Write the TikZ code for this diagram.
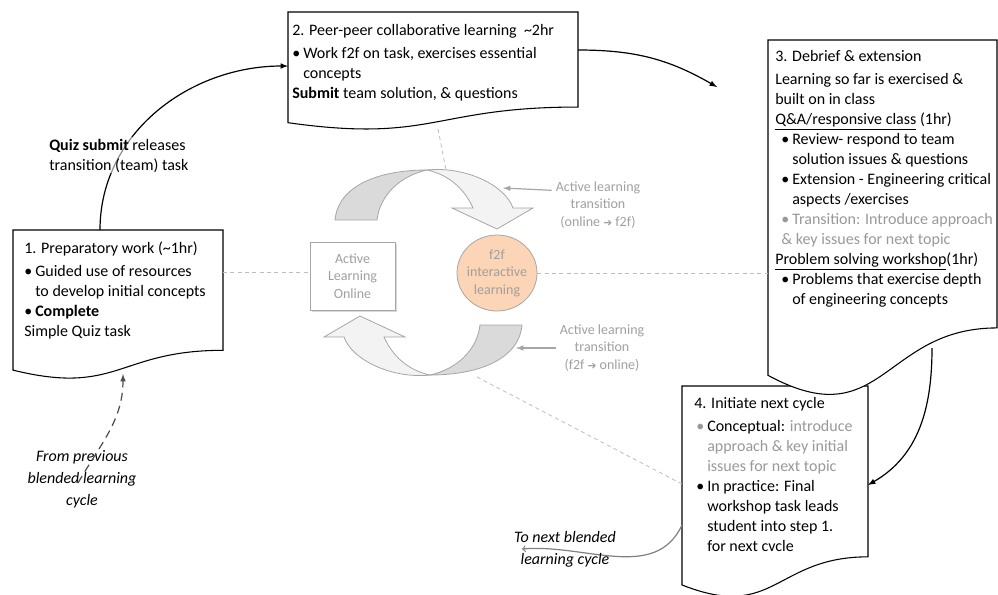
\documentclass[tikz,border=0pt]{standalone}
\usepackage{fontspec}
\setmainfont{Carlito}
\newfontfamily\symfont{DejaVu Sans}
\usetikzlibrary{shapes.geometric,calc,shadows}
\setlength{\parindent}{0pt}

\definecolor{lightline}{HTML}{A6A6A6}
\definecolor{dashline}{HTML}{BDBDBD}
\definecolor{hubgray}{HTML}{A0A0A0}
\definecolor{softtext}{HTML}{999999}
\definecolor{nextgray}{HTML}{808080}
\definecolor{backband}{HTML}{DADADA}
\definecolor{frontband}{HTML}{F3F3F3}
\definecolor{peach}{HTML}{FBD5B5}

\tikzset{
	docline/.style={draw=black, line width=0.8pt, fill=white},
	boxtext/.style={anchor=north west, inner sep=0pt},
	hubtext/.style={text=hubgray, align=center, inner sep=0pt,
		font=\fontsize{10.5}{13.2}\selectfont},
	flow/.style={-latex, line width=0.9pt},
	pointer/.style={-latex, draw=lightline, line width=0.9pt},
	guide/.style={draw=dashline, dash pattern=on 3pt off 2.5pt, line width=0.6pt},
	band/.style={draw=lightline, line width=0.6pt}
}

% document shape: left x, top y, right x, height
\newcommand{\docbox}[4]{%
	\draw[docline] (#1,#2) -- (#3,#2) -- (#3,{#2+0.802*#4})
		.. controls ({(#1+#3)/2},{#2+0.802*#4}) and ({(#1+#3)/2},{#2+1.107*#4})
		.. (#1,{#2+0.934*#4}) -- cycle;}

% text block of a step
\newcommand{\steptext}[2]{\parbox[t]{#1}{\fontsize{12}{15}\selectfont\strut #2}}

% bullet item: [offset]{bullet colour}
\newcommand{\itm}[2][0pt]{\par\hangindent=\dimexpr#1+8.25pt\relax\hangafter=1
	\noindent\hspace*{#1}\makebox[8.25pt][l]{#2\textbullet}}

% twisted turn arrow of the hub
\newcommand{\turnarrow}{%
	\filldraw[band, fill=backband] (335,220) .. controls (338,186) and (378,170) .. (427,170)
		.. controls (400,176) and (380,195) .. (377,220) -- cycle;
	\filldraw[band, fill=frontband] (427,170) .. controls (465,166) and (505,185) .. (513,208)
		-- (533,208) -- (497,229) -- (452,208) -- (473,208)
		.. controls (465,190) and (450,175) .. (427,170) -- cycle;}

\begin{document}
\begin{tikzpicture}[x=0.75pt,y=-0.75pt]
	\useasboundingbox (0,0) rectangle (998,594);

	% the four steps
	\docbox{13}{230}{223}{150}
	\docbox{288}{12}{578}{118.5}
	\docbox{682}{386}{868}{213}
	\docbox{768}{40}{997}{359}

	\coordinate (prepTop) at (100,230);
	\coordinate (prepEast) at (223,272);
	\coordinate (prepBottom) at (123,374);
	\coordinate (peerIn) at (288,66);
	\coordinate (peerOut) at (578,50);
	\coordinate (peerBottom) at (438,129);
	\coordinate (debriefEnd) at (717,87);
	\coordinate (debriefWest) at (768,273);
	\coordinate (debriefOut) at (932,348);
	\coordinate (initIn) at (868,485);
	\coordinate (initWest) at (682,484);
	\coordinate (initOut) at (682,525);
	\coordinate (nextEnd) at (522,549);
	\coordinate (prevStart) at (78,483);

	% hub
	\turnarrow
	\begin{scope}[rotate around={180:(428.5,272.5)}]
		\turnarrow
	\end{scope}
	\coordinate (upCrest) at (446,170);
	\coordinate (lowCrest) at (477,377);
	\coordinate (upTip) at (503,188);
	\coordinate (lowTip) at (516,348);

	\node[hubtext, draw=lightline, line width=0.6pt, fill=white,
		minimum width=63.75pt, minimum height=51pt,
		drop shadow={shadow xshift=1.5pt, shadow yshift=-1.5pt, fill=black!30}]
		(online) at (352.5,276) {Active\\Learning\\Online};
	\node[hubtext, ellipse, draw=lightline, line width=0.6pt, fill=peach,
		inner xsep=-4pt, inner ysep=-2pt, minimum width=60pt, minimum height=57pt]
		(f2f) at (497,273) {f2f\\interactive\\learning};

	\node[hubtext] (toF2f) at (598,205) {Active learning\\transition\\(online {\symfont\footnotesize ➔} f2f)};
	\node[hubtext] (toOnline) at (602,348) {Active learning\\transition\\(f2f {\symfont\footnotesize ➔} online)};
	\draw[pointer] ($(toF2f.north west)+(-4,9)$) -- (upTip);
	\draw[pointer] ([xshift=-3pt]toOnline.west) -- (lowTip);

	% dashed guides
	\draw[guide] (prepEast) -- (prepEast -| online.west);
	\draw[guide] (f2f.east) -- (debriefWest);
	\draw[guide] (peerBottom) -- (upCrest);
	\draw[guide] (lowCrest) -- (initWest);

	% cycle connectors
	\draw[flow] (prepTop) to[out=90,in=180] (peerIn);
	\draw[flow] (peerOut) to[out=0,in=150] (debriefEnd);
	\draw[flow] (debriefOut) to[out=-90,in=30] (initIn);
	\draw[->, draw=nextgray, line width=0.9pt] (initOut) to[out=-115,in=5] (nextEnd);

	% texts
	\node[boxtext] (prep) at (24,239.7) {\steptext{170pt}{1. Preparatory work (\textasciitilde1hr)\par\vspace{2pt}
		\itm{}Guided use of resources\\to develop initial concepts
		\itm{}\textbf{Complete}
		\par Simple Quiz task}};
	\node[boxtext] (peer) at (292,21.7) {\steptext{240pt}{2. Peer-peer collaborative learning\ \ \textasciitilde2hr\par\vspace{2pt}
		\itm{}Work f2f on task, exercises essential\\concepts
		\par\textbf{Submit} team solution, \& questions}};
	\node[boxtext] (debrief) at (775,47.7) {\steptext{200pt}{3. Debrief \& extension\par\vspace{2pt}
		Learning so far is exercised \&\\built on in class
		\par\underline{Q\&A/responsive class} (1hr)
		\itm[4.5pt]{}Review- respond to team\\solution issues \& questions
		\itm[4.5pt]{}Extension - Engineering critical\\aspects /exercises
		\par\hangindent=4.5pt\hangafter=1\noindent\hspace*{4.5pt}{\color{softtext}\makebox[8.25pt][l]{\textbullet}Transition: Introduce approach\\\& key issues for next topic}
		\par\underline{Problem solving workshop}(1hr)
		\itm[4.5pt]{}Problems that exercise depth\\of engineering concepts}};
	\node[boxtext] (initiate) at (694,394.7) {\steptext{160pt}{4. Initiate next cycle\par\vspace{2pt}
		\itm[1.5pt]{\color{softtext}}Conceptual: {\color{softtext}introduce\\approach \& key initial\\issues for next topic}
		\itm[1.5pt]{}In practice: Final\\workshop task leads\\student into step 1.\\for next cvcle}};

	\node[boxtext, fill=white, fill opacity=0.55, text opacity=1] (quiz) at (49,136.7)
		{\steptext{140pt}{\textbf{Quiz submit} releases\\transition (team) task}};
	\node[align=center, inner sep=0pt, font=\fontsize{12}{16.5}\selectfont\itshape]
		(fromPrev) at (82,479) {From previous\\blended learning\\cycle};
	\node[align=center, inner sep=0pt, font=\fontsize{12}{16.5}\selectfont\itshape]
		(toNext) at (565,549) {To next blended\\learning cycle};

	\draw[flow, draw=black!70, dash pattern=on 6pt off 4pt] (prevStart) to[out=60,in=-90] (prepBottom);
\end{tikzpicture}
\end{document}
